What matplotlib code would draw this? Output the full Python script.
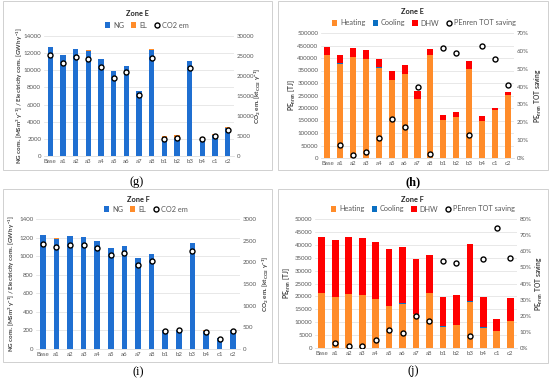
import numpy as np
import matplotlib
matplotlib.use("Agg")
import matplotlib.pyplot as plt
from matplotlib.patches import Rectangle

plt.rcParams['font.family'] = ['Lato', 'DejaVu Sans']
plt.rcParams['mathtext.default'] = 'regular'

cases = ["Base", "a1", "a2", "a3", "a4", "a5", "a6", "a7", "a8",
         "b1", "b2", "b3", "b4", "c1", "c2"]

# Zone E - consumptions and emissions (g)
ng_e = [12700, 11750, 12500, 12300, 11300, 9900, 10500, 7600, 12400,
        2050, 2150, 11100, 1950, 2400, 3250]
el_e = [40, 40, 40, 60, 40, 40, 40, 40, 40, 320, 350, 40, 300, 220, 150]
co2_e = [25200, 23300, 24700, 24300, 22300, 19600, 20900, 15200, 24500,
         4300, 4500, 22000, 4200, 4900, 6600]

# Zone E - primary energy (h)
heat_e = [412000, 378000, 405000, 397000, 362000, 313000, 335000, 235000, 412000,
          153000, 163000, 355000, 148000, 193000, 253000]
cool_e = [800, 2500, 800, 800, 800, 800, 800, 800, 800, 800, 800, 800, 800, 800, 800]
dhw_e = [33000, 32500, 34500, 34500, 33500, 34500, 34500, 32500, 23500,
         19000, 19500, 33500, 17500, 5500, 9500]
save_e = [None, 7.5, 1.5, 3.2, 11.3, 22.0, 17.2, 40.0, 2.5,
          61.5, 59.0, 12.7, 62.7, 55.5, 41.0]

# Zone F - consumptions and emissions (i)
ng_f = [1225, 1190, 1215, 1205, 1165, 1090, 1110, 975, 1020,
        203, 208, 1140, 198, 118, 205]
el_f = [0.5, 0.5, 0.5, 0.5, 0.5, 0.5, 0.5, 0.5, 0.5, 2, 2, 0.5, 2, 2, 2]
co2_f = [2430, 2360, 2410, 2390, 2320, 2160, 2210, 1940, 2020,
         420, 430, 2260, 400, 240, 420]

# Zone F - primary energy (j)
heat_f = [21200, 19900, 20800, 20500, 19100, 16400, 17200, 13000, 21200,
          8300, 8900, 18000, 7900, 6500, 10600]
cool_f = [50, 50, 50, 50, 50, 50, 50, 50, 50, 50, 50, 50, 50, 50, 50]
dhw_f = [21950, 21950, 22050, 22050, 21850, 21950, 21850, 21450, 14650,
         11550, 11650, 22150, 11650, 4550, 8550]
save_f = [None, 3.0, 1.0, 1.5, 4.8, 11.0, 9.5, 20.0, 17.0,
          54.0, 52.5, 7.3, 55.0, 74.5, 55.8]

BLUE = "#1f6fd1"
ORANGE = "#ff8c2a"
RED = "#ff0000"
COOL = "#0a6fc2"
GRID = "#dedede"
TXT = "#595959"
W, H = 550, 382

fig = plt.figure(figsize=(W / 100, H / 100), dpi=100)


def px_axes(l, r, t, b):
    return fig.add_axes([l / W, 1 - b / H, (r - l) / W, (b - t) / H])


def style(ax, ax2, ymax, ystep, y2max, y2step, pct=False):
    x = np.arange(len(cases))
    ax.set_xlim(-0.5, len(cases) - 0.5)
    ax.set_ylim(0, ymax)
    ax.set_yticks(np.linspace(0, ymax, int(round(ymax / ystep)) + 1))
    ax.set_xticks(x)
    ax.set_xticklabels(cases)
    ax2.set_ylim(0, y2max)
    ticks2 = np.linspace(0, y2max, int(round(y2max / y2step)) + 1)
    ax2.set_yticks(ticks2)
    if pct:
        ax2.set_yticklabels([f"{int(round(v))}%" for v in ticks2])
    else:
        ax2.set_yticklabels([f"{int(round(v))}" for v in ticks2])
    ax.set_yticklabels([f"{int(round(v))}" for v in ax.get_yticks()])
    ax.grid(axis="y", color=GRID, lw=0.5)
    ax.set_axisbelow(True)
    for a in (ax, ax2):
        for s in a.spines.values():
            s.set_visible(False)
        a.tick_params(length=0, labelsize=4.4, colors=TXT, pad=2)
    ax.spines["bottom"].set_visible(True)
    ax.spines["bottom"].set_color(GRID)
    ax.spines["bottom"].set_linewidth(0.6)
    ax.set_zorder(ax2.get_zorder() - 1)
    ax.patch.set_visible(False)


def markers(ax2, vals):
    xs = [i for i, v in enumerate(vals) if v is not None]
    ys = [v for v in vals if v is not None]
    return ax2.plot(xs, ys, ls="none", marker="o", ms=3.6, mfc="white",
                    mec="black", mew=1.0, zorder=5)[0]


def header(cx, ty, ly, title, handles, labels):
    fig.text(cx / W, 1 - ty / H, title, ha="center", va="center",
             fontsize=5.3, fontweight="bold", color="#262626")
    fig.legend(handles, labels, loc="center", bbox_to_anchor=(ly[0] / W, 1 - ly[1] / H),
               ncol=len(labels), frameon=False, fontsize=5.3, handlelength=0.7,
               handleheight=0.7, handletextpad=0.35, columnspacing=1.0,
               labelcolor=TXT, borderpad=0)


def place_labels(ax, ax2, l, r, lab_x):
    for a, px in ((ax, lab_x[0]), (ax2, lab_x[1])):
        a.yaxis.label.set_va("center")
        a.yaxis.label.set_ha("center")
        a.yaxis.set_label_coords((px - l) / (r - l), 0.5)


def consumption_panel(box, ng, el, co2, ymax, ystep, y2max, y2step, title, tpos, lab_x, bw):
    l, r, t, b = box
    ax = px_axes(l, r, t, b)
    ax2 = ax.twinx()
    x = np.arange(len(cases))
    h1 = ax.bar(x, ng, bw, color=BLUE, label="NG")
    h2 = ax.bar(x, el, bw, bottom=ng, color=ORANGE, label="EL")
    h3 = markers(ax2, co2)
    style(ax, ax2, ymax, ystep, y2max, y2step)
    ax.set_ylabel(r"NG cons. [MSm$^3$ y$^{-1}$] / Electricity cons. [GWh y$^{-1}$]",
                  fontsize=4.4, fontweight="bold", color="#404040")
    ax2.set_ylabel(r"CO$_2$ em. [kt$_{CO2}$ y$^{-1}$]", fontsize=4.6,
                   fontweight="bold", color="#404040", rotation=90)
    place_labels(ax, ax2, l, r, lab_x)
    header(tpos[0], tpos[1], tpos[2], title, [h1, h2, h3], ["NG", "EL", "CO2 em"])


def energy_panel(box, heat, cool, dhw, save, ymax, ystep, y2max, title, tpos, lab_x, bw):
    l, r, t, b = box
    ax = px_axes(l, r, t, b)
    ax2 = ax.twinx()
    x = np.arange(len(cases))
    heat = np.array(heat)
    cool = np.array(cool)
    h1 = ax.bar(x, heat, bw, color=ORANGE)
    h2 = ax.bar(x, cool, bw, bottom=heat, color=COOL)
    h3 = ax.bar(x, dhw, bw, bottom=heat + cool, color=RED)
    h4 = markers(ax2, save)
    style(ax, ax2, ymax, ystep, y2max, 10, pct=True)
    ax.set_ylabel(r"PE$_{nren}$ [TJ]", fontsize=4.8, fontweight="bold", color="#404040")
    ax2.set_ylabel(r"PE$_{nren}$ TOT saving", fontsize=4.8, fontweight="bold",
                   color="#404040", rotation=90)
    place_labels(ax, ax2, l, r, lab_x)
    header(tpos[0], tpos[1], tpos[2], title, [h1, h2, h3, h4],
           ["Heating", "Cooling", "DHW", "PEnren TOT saving"])


# panel frames
for (x0, y0, x1, y1) in [(3, 1, 272, 170), (278, 1, 548, 170),
                         (3, 189, 272, 362), (278, 189, 548, 363)]:
    fig.patches.append(Rectangle((x0 / W, 1 - y1 / H), (x1 - x0) / W, (y1 - y0) / H,
                                 transform=fig.transFigure, fill=False,
                                 ec="#d0d0d0", lw=0.7))

consumption_panel((44, 234, 36, 156), ng_e, el_e, co2_e, 14000, 2000, 30000, 5000,
                  "Zone E", (137, 13, (147, 25)), (20, 258), 0.42)
energy_panel((321, 514, 33, 158), heat_e, cool_e, dhw_e, save_e, 500000, 50000, 70,
             "Zone E", (412, 11, (424, 23)), (292, 538), 0.47)
consumption_panel((36, 240, 219, 349), ng_f, el_f, co2_f, 1400, 200, 3000, 500,
                  "Zone F", (138, 200, (146, 209)), (12, 266), 0.4)
energy_panel((315, 517, 219, 348), heat_f, cool_f, dhw_f, save_f, 50000, 5000, 80,
             "Zone F", (412, 200, (423, 209)), (287, 539), 0.5)

for lab, cx, cy in [("(g)", 137, 182), ("(h)", 413, 182), ("(i)", 138, 372), ("(j)", 413, 371)]:
    fig.text(cx / W, 1 - cy / H, lab, ha="center", va="center", fontsize=9,
             family="Liberation Serif", fontweight="bold" if lab == "(h)" else "normal")

fig.savefig("out.png", dpi=100)
